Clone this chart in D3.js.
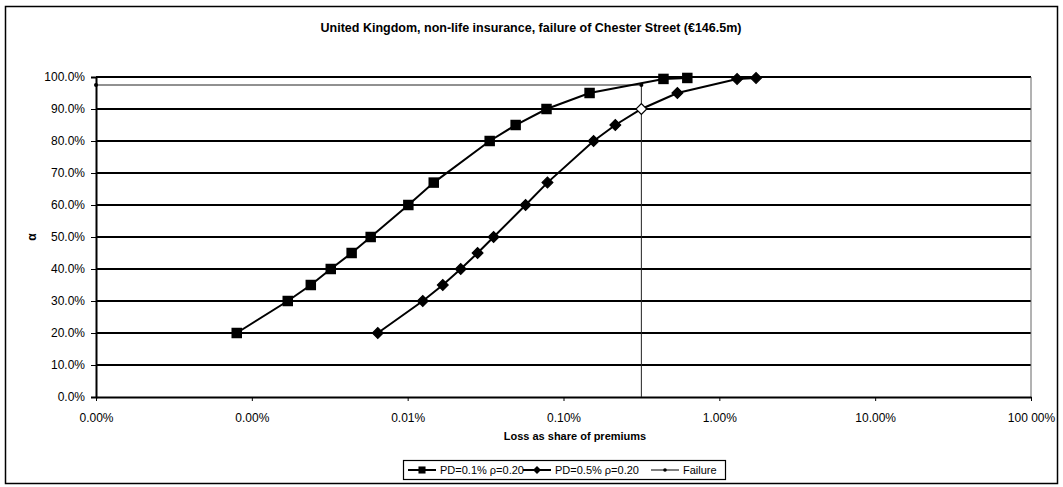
<!DOCTYPE html>
<html><head><meta charset="utf-8">
<script src="https://cdn.jsdelivr.net/npm/d3@7/dist/d3.min.js"></script>
<style>body{margin:0;background:#fff}svg{display:block;font-family:"Liberation Sans",Arial,sans-serif}</style>
</head><body><svg id="c" width="1063" height="487"></svg>
<script>
const titleText = "United Kingdom, non-life insurance, failure of Chester Street (€146.5m)";
const xTitle = "Loss as share of premiums";
const yTitle = "α";
const xTickValues = [1e-6, 1e-5, 1e-4, 1e-3, 1e-2, 1e-1, 1];
const xTickLabels = ["0.00%", "0.00%", "0.01%", "0.10%", "1.00%", "10.00%", "100 00%"];
const yTickValues = [0, 0.1, 0.2, 0.3, 0.4, 0.5, 0.6, 0.7, 0.8, 0.9, 1.0];
const seriesNames = ["PD=0.1% ρ=0.20", "PD=0.5% ρ=0.20", "Failure"];
const alphaLevels = [0.20, 0.30, 0.35, 0.40, 0.45, 0.50, 0.60, 0.67, 0.80, 0.85, 0.90, 0.95, 0.994, 0.997];
const lossPD01 = [8.0e-6, 1.70e-5, 2.39e-5, 3.21e-5, 4.37e-5, 5.79e-5, 1.01e-4, 1.47e-4, 3.36e-4, 4.93e-4, 7.78e-4, 1.47e-3, 4.38e-3, 6.23e-3];
const lossPD05 = [6.43e-5, 1.25e-4, 1.68e-4, 2.19e-4, 2.81e-4, 3.56e-4, 5.71e-4, 7.89e-4, 1.56e-3, 2.15e-3, 3.16e-3, 5.38e-3, 1.30e-2, 1.72e-2];
const failureX = [1e-6, 3.16e-3, 3.16e-3, 3.16e-3];
const failureY = [0.975, 0.975, 0.90, 0];

const svg = d3.select("#c");
const x = d3.scaleLog().domain([1e-6, 1]).range([96, 1031]);
const y = d3.scaleLinear().domain([0, 1]).range([397, 77]);

// outer border
svg.append("rect").attr("x", 5.5).attr("y", 6.5).attr("width", 1052).attr("height", 477)
  .attr("fill", "none").attr("stroke", "#000").attr("stroke-width", 1.5);

svg.append("text").attr("x", 531).attr("y", 32).attr("text-anchor", "middle")
  .attr("font-size", 12.5).attr("font-weight", "bold").text(titleText);

// gridlines
svg.append("g").selectAll("line").data(yTickValues.filter(d => d > 0)).join("line")
  .attr("x1", x.range()[0]).attr("x2", x.range()[1])
  .attr("y1", d => y(d)).attr("y2", d => y(d))
  .attr("stroke", "#000").attr("stroke-width", 1.8);
// right plot border
svg.append("line").attr("x1", 1031).attr("x2", 1031).attr("y1", y(1)).attr("y2", y(0))
  .attr("stroke", "#666").attr("stroke-width", 1);

// axes
const yAxis = d3.axisLeft(y).tickValues(yTickValues).tickFormat(d3.format(".1%")).tickSize(5).tickPadding(6);
const gy = svg.append("g").attr("transform", `translate(${x.range()[0]},0)`).call(yAxis);
gy.select(".domain").attr("stroke-width", 2);
gy.selectAll("text").attr("font-size", 12).attr("fill", "#000");

const xAxis = d3.axisBottom(x).tickValues(xTickValues).tickFormat((d, i) => xTickLabels[i]).tickSize(4).tickSizeOuter(0).tickPadding(12);
const gx = svg.append("g").attr("transform", `translate(0,${y(0)})`).call(xAxis);
gx.select(".domain").attr("stroke-width", 2);
gx.selectAll("text").attr("font-size", 12).attr("fill", "#000");

svg.append("text").attr("x", 575).attr("y", 440).attr("text-anchor", "middle")
  .attr("font-size", 11).attr("font-weight", "bold").text(xTitle);
svg.append("text").attr("transform", "translate(36,237) rotate(-90)").attr("text-anchor", "middle")
  .attr("font-size", 12).attr("font-weight", "bold").text(yTitle);

const line = d3.line().x(d => x(d[0])).y(d => y(d[1]));
const failPts = failureX.map((v, i) => [v, failureY[i]]);
const s1 = lossPD01.map((v, i) => [v, alphaLevels[i]]);
const s2 = lossPD05.map((v, i) => [v, alphaLevels[i]]);

// failure
svg.append("path").attr("d", line(failPts)).attr("fill", "none").attr("stroke", "#222").attr("stroke-width", 1);
svg.append("path").attr("d", line(s1)).attr("fill", "none").attr("stroke", "#000").attr("stroke-width", 2);
svg.append("path").attr("d", line(s2)).attr("fill", "none").attr("stroke", "#000").attr("stroke-width", 2);

const sq = d3.symbol().type(d3.symbolSquare).size(110);
const dm = d3.symbol().type(d3.symbolSquare).size(58);
svg.append("g").selectAll("path").data(s1).join("path")
  .attr("transform", d => `translate(${x(d[0])},${y(d[1])})`).attr("d", sq).attr("fill", "#000");
svg.append("g").selectAll("path").data(s2).join("path")
  .attr("transform", d => `translate(${x(d[0])},${y(d[1])}) rotate(45)`).attr("d", dm)
  .attr("fill", d => failPts.some(f => f[0] === d[0] && f[1] === d[1]) ? "#fff" : "#000")
  .attr("stroke", "#000").attr("stroke-width", 1.2);
svg.append("g").selectAll("circle").data(failPts.filter(d => d[1] > 0 && d[1] !== 0.9)).join("circle")
  .attr("cx", d => x(d[0])).attr("cy", d => y(d[1])).attr("r", 2).attr("fill", "#000");

// legend
const lg = svg.append("g").attr("transform", "translate(403,460)");
lg.append("rect").attr("x", 0.5).attr("y", 0.5).attr("width", 322).attr("height", 19)
  .attr("fill", "#fff").attr("stroke", "#000").attr("stroke-width", 1.2);
const legendItems = [
  {name: seriesNames[0], x: 5, sym: d3.symbol().type(d3.symbolSquare).size(50), rot: 0, w: 2},
  {name: seriesNames[1], x: 120, sym: d3.symbol().type(d3.symbolSquare).size(32), rot: 45, w: 2},
  {name: seriesNames[2], x: 248, sym: null, rot: 0, w: 1}
];
legendItems.forEach(it => {
  const g = lg.append("g").attr("transform", `translate(${it.x},10)`);
  g.append("line").attr("x1", 0).attr("x2", 28).attr("stroke", "#000").attr("stroke-width", it.w);
  if (it.sym) g.append("path").attr("transform", `translate(14,0) rotate(${it.rot})`).attr("d", it.sym).attr("fill", "#000");
  else g.append("circle").attr("cx", 14).attr("r", 1.8).attr("fill", "#000");
  g.append("text").attr("x", 32).attr("y", 4).attr("font-size", 11).text(it.name);
});
</script></body></html>
